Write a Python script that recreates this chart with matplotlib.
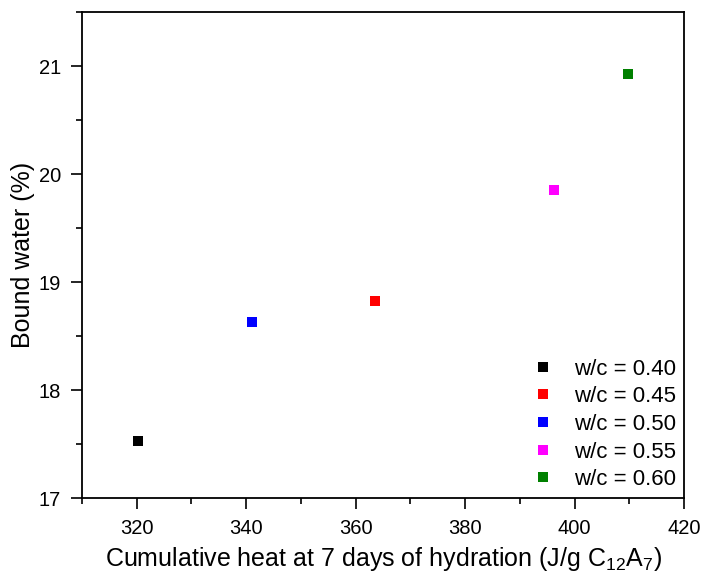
import matplotlib
matplotlib.use("Agg")
from matplotlib import pyplot as plt
from matplotlib.ticker import MultipleLocator

plt.rcParams['font.family'] = ['Liberation Sans', 'DejaVu Sans']
plt.rcParams['mathtext.fontset'] = 'custom'
plt.rcParams['mathtext.rm'] = 'Liberation Sans'

# one point per water/cement ratio
labels = ['w/c = 0.40', 'w/c = 0.45', 'w/c = 0.50', 'w/c = 0.55', 'w/c = 0.60']
heat = [320.3, 363.5, 341.0, 396.2, 409.7]
bound_water = [17.53, 18.82, 18.63, 19.85, 20.93]
colors = ['black', 'red', 'blue', 'magenta', 'green']

fig = plt.figure(figsize=(7.02, 5.73), dpi=100)
ax = fig.add_axes([82 / 702, 1 - 498 / 573, (684 - 82) / 702, (498 - 12) / 573])

for i in range(len(heat)):
    ax.plot(heat[i], bound_water[i], 's', color=colors[i],
            markersize=7.2, markeredgewidth=0, label=labels[i])

ax.legend(loc='lower right', frameon=False, fontsize=16, handlelength=1.0,
          handletextpad=0.9, labelspacing=0.3, borderpad=0.2,
          borderaxespad=0.15, numpoints=1)

ax.set_xlim(310, 420)
ax.set_ylim(17, 21.5)
ax.xaxis.set_major_locator(MultipleLocator(20))
ax.xaxis.set_minor_locator(MultipleLocator(10))
ax.yaxis.set_major_locator(MultipleLocator(1))
ax.yaxis.set_minor_locator(MultipleLocator(0.5))
ax.tick_params(which='major', length=8, width=1.2, labelsize=14.5, colors='black',
               pad=7)
ax.tick_params(which='minor', length=4, width=1.2)
for s in ax.spines.values():
    s.set_linewidth(1.3)

ax.set_xlabel('Cumulative heat at 7 days of hydration (J/g C$_{\\mathrm{12}}$A$_{\\mathrm{7}}$)',
              fontsize=18, labelpad=5)
ax.set_ylabel('Bound water (%)', fontsize=18, labelpad=3)

fig.savefig('out.png', dpi=100)
